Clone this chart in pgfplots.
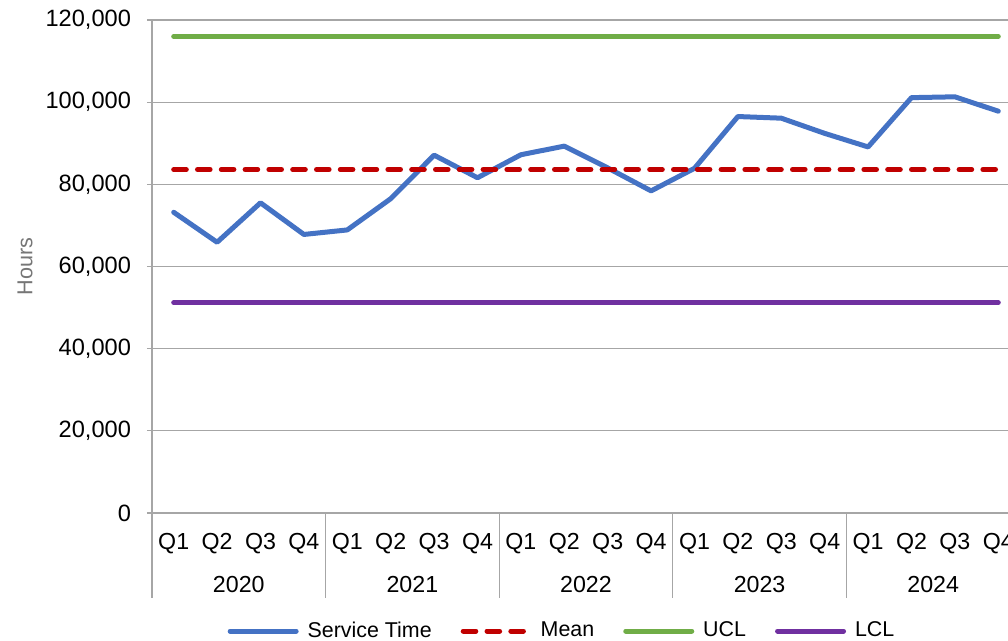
\documentclass[border=0pt]{standalone}
\usepackage{fontspec}
\setmainfont{Liberation Sans}
\usepackage{pgfplots}
\pgfplotsset{compat=1.18}

\definecolor{svcblue}{HTML}{4472C4}
\definecolor{meanred}{HTML}{C00000}
\definecolor{uclgreen}{HTML}{70AD47}
\definecolor{lclpurple}{HTML}{7030A0}
\definecolor{gridgray}{HTML}{A6A6A6}
\definecolor{labelgray}{HTML}{767676}

\begin{document}
\begin{tikzpicture}
\useasboundingbox (-76pt,-64pt) rectangle (428pt,256.5pt);
\clip (-76pt,-64pt) rectangle (428pt,256.5pt);
\begin{axis}[
    scale only axis,
    width=434pt, height=246.5pt,
    xmin=-0.5, xmax=19.5,
    ymin=0, ymax=120000,
    ytick={0,20000,40000,60000,80000,100000,120000},
    scaled y ticks=false,
    /pgf/number format/assume math mode=true,
    yticklabel style={/pgf/number format/fixed, /pgf/number format/precision=0,
        /pgf/number format/1000 sep={,}, xshift=-4.5pt,
        font=\fontsize{11.8}{13}\selectfont},
    xtick={0,...,19},
    xticklabels={Q1,Q2,Q3,Q4,Q1,Q2,Q3,Q4,Q1,Q2,Q3,Q4,Q1,Q2,Q3,Q4,Q1,Q2,Q3,Q4},
    xticklabel style={anchor=center, yshift=-13pt,
        font=\fontsize{11.6}{13}\selectfont},
    extra x ticks={1.5,5.5,9.5,13.5,17.5},
    extra x tick labels={2020,2021,2022,2023,2024},
    extra x tick style={major tick length=0pt, xticklabel style={yshift=-23pt}},
    xtick style={draw=none},
    tick align=outside,
    ytick style={draw=gridgray, line width=0.6pt},
    major tick length=2.5pt,
    ymajorgrids,
    grid style={draw=gridgray, line width=0.6pt},
    axis line style={draw=none},
    ylabel={Hours},
    ylabel style={at={(axis description cs:-0.1463,0.5)}, anchor=center,
        font=\fontsize{10.8}{12}\selectfont, text=labelgray},
    clip=false,
    legend columns=4,
    legend style={at={(0.4735,-0.2394)}, anchor=center, draw=none, fill=none,
        font=\fontsize{10.7}{12}\selectfont,
        /tikz/every even column/.append style={column sep=12.5pt}},
    legend image code/.code={\draw[#1] (0pt,0pt) -- (33pt,0pt); \path (35.5pt,0pt);},
    every axis plot/.append style={line width=2.5pt, line cap=round, line join=round},
]

% Service time per quarter, 2020 Q1 .. 2024 Q4
\addplot[svcblue] coordinates {
    (0,73200) (1,65900) (2,75500) (3,67800)
    (4,68900) (5,76500) (6,87100) (7,81600)
    (8,87200) (9,89300) (10,84000) (11,78400)
    (12,83900) (13,96500) (14,96100) (15,92400)
    (16,89100) (17,101100) (18,101300) (19,97800)
};
\addlegendentry{Service Time}

\addplot[meanred, dash pattern=on 6.3pt off 5.6pt] coordinates {(0,83600) (19,83600)};
\addlegendentry{Mean}

\addplot[uclgreen] coordinates {(0,116000) (19,116000)};
\addlegendentry{UCL}

\addplot[lclpurple] coordinates {(0,51200) (19,51200)};
\addlegendentry{LCL}

% axis line and year separators of the category axis
\draw[gridgray, line width=0.6pt] (rel axis cs:0,1) -- ([yshift=-42.5pt]rel axis cs:0,0);
\pgfplotsinvokeforeach{3.5,7.5,11.5,15.5,19.5}{
    \draw[gridgray, line width=0.6pt] (axis cs:#1,0) -- ++(0pt,-42.5pt);
}
\end{axis}
\end{tikzpicture}
\end{document}
